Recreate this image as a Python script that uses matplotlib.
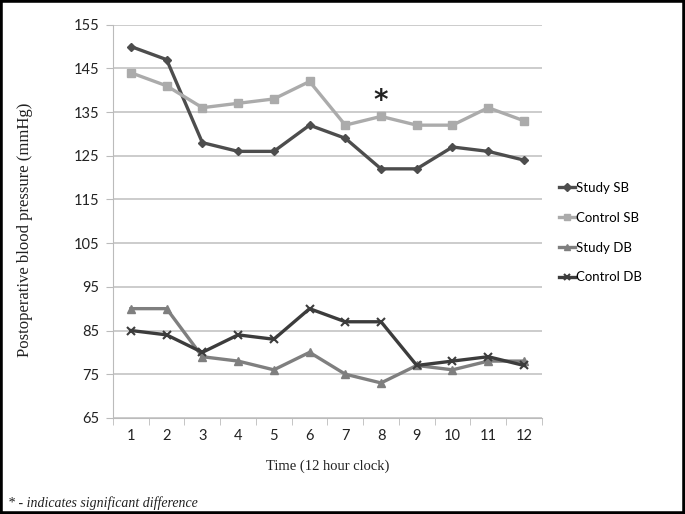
import matplotlib
matplotlib.use("Agg")
import matplotlib.pyplot as plt
from matplotlib.patches import Rectangle

hours = [1, 2, 3, 4, 5, 6, 7, 8, 9, 10, 11, 12]
study_sb = [150, 147, 128, 126, 126, 132, 129, 122, 122, 127, 126, 124]
control_sb = [144, 141, 136, 137, 138, 142, 132, 134, 132, 132, 136, 133]
study_db = [90, 90, 79, 78, 76, 80, 75, 73, 77, 76, 78, 78]
control_db = [85, 84, 80, 84, 83, 90, 87, 87, 77, 78, 79, 77]
y_ticks = [65, 75, 85, 95, 105, 115, 125, 135, 145, 155]
sig_hour = 8
sig_value = 137.5

fig = plt.figure(figsize=(6.85, 5.14), dpi=100)
ax = fig.add_axes([0.165, 0.187, 0.626, 0.765])

ax.plot(hours, study_sb, color="#4d4d4d", lw=2.4, marker="D", ms=4.5, label="Study SB", zorder=3)
ax.plot(hours, control_sb, color="#ababab", lw=2.4, marker="s", ms=6, label="Control SB", zorder=3)
ax.plot(hours, study_db, color="#7f7f7f", lw=2.4, marker="^", ms=6, label="Study DB", zorder=3)
ax.plot(hours, control_db, color="#3c3c3c", lw=2.4, marker="x", ms=6, mew=1.5, label="Control DB", zorder=3)

ax.text(sig_hour, sig_value, "*", ha="center", va="center", fontsize=20, color="#222222",
        family="DejaVu Sans", fontweight="bold")

ax.set_xlim(0.5, 12.5)
ax.set_ylim(65, 155)
ax.set_yticks(y_ticks)
ax.set_xticks(hours)
ax.set_xticks([h + 0.5 for h in [0] + hours], minor=True)
ax.tick_params(axis="x", which="major", length=0, pad=8, labelsize=10.5)
ax.tick_params(axis="x", which="minor", length=5, color="#bbbbbb", direction="out")
ax.tick_params(axis="y", length=5, color="#bbbbbb", labelsize=10.5, pad=5)
for lab in ax.get_xticklabels() + ax.get_yticklabels():
    lab.set_family("Lato")
    lab.set_color("#222222")

ax.grid(axis="y", color="#c4c4c4", lw=1.2)
ax.set_axisbelow(True)
for s in ["top", "right"]:
    ax.spines[s].set_visible(False)
ax.spines["left"].set_color("#bbbbbb")
ax.spines["bottom"].set_color("#bbbbbb")

ax.set_xlabel("Time (12 hour clock)", family="Liberation Serif", fontsize=10.5, labelpad=12, color="#222222")
ax.set_ylabel("Postoperative blood pressure (mmHg)", family="Liberation Serif", fontsize=12,
              color="#222222", va="center")
ax.yaxis.set_label_coords(-0.205, 0.478)

leg = ax.legend(loc="upper left", bbox_to_anchor=(1.012, 0.63), frameon=False, handlelength=1.2,
                handletextpad=0.1, labelspacing=1.35, prop={"family": "Lato", "size": 9.5},
                markerscale=0.8)

fig.text(0.012, 0.014, "* - indicates significant difference", family="Liberation Serif",
         style="italic", fontsize=10, color="#222222")

fig.patches.append(Rectangle((0, 0), 1, 1, transform=fig.transFigure, fill=False,
                             edgecolor="black", lw=4, zorder=10))

fig.savefig("out.png", dpi=100)
